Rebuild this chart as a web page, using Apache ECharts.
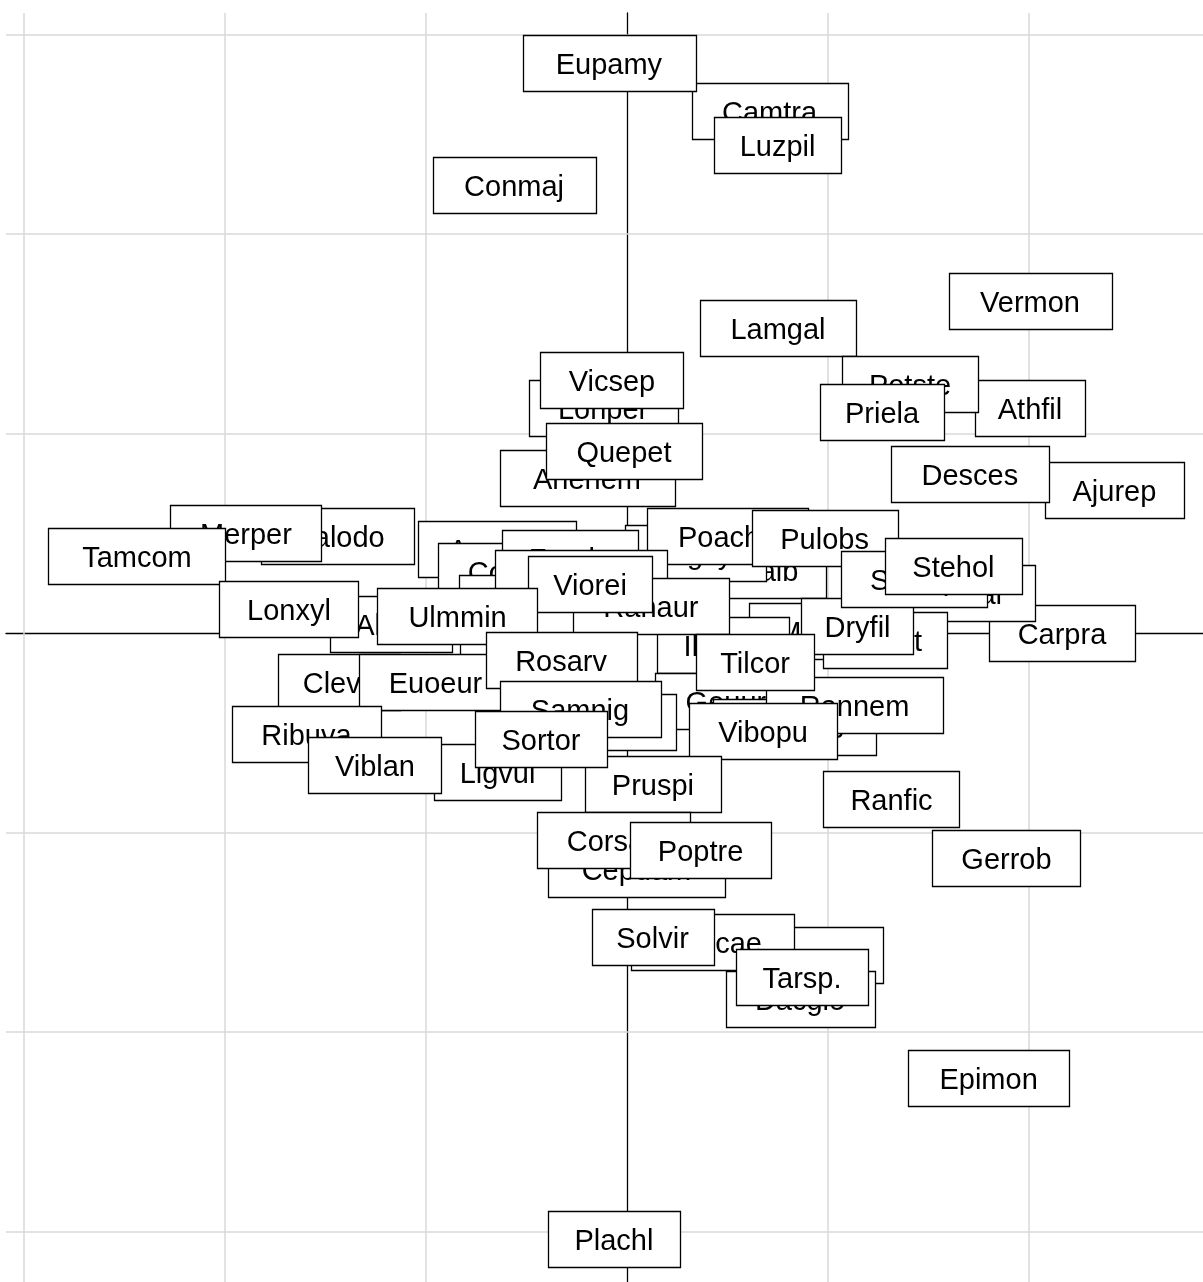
<!DOCTYPE html>
<html>
<head>
<meta charset="utf-8">
<script src="https://cdn.jsdelivr.net/npm/echarts@6/dist/echarts.min.js"></script>
<style>
html,body{margin:0;padding:0;background:#fff;}
#chart{width:1203px;height:1282px;}
</style>
</head>
<body>
<div id="chart"></div>
<script>
// Species labels (drawing order: first = bottom)
const labels = ["Camtra","Luzpil","Eupamy","Conmaj","Vermon","Lamgal","Athfil","Potste","Priela","Ajurep",
  "Desces","Lonper","Vicsep","Anenem","Quepet","Galodo","Merper","Tamcom","Galalb","Fagsyl",
  "Poacha","Pulobs","Acepse","Corave","Fraaln","Filulm","Brasyl","Hypmac","Epiang","Meluni",
  "Ileaqu","Ranaur","Viorei","Allurs","Lonxyl","Ulmmin","Carpra","Daucar","Ribalt","Dryfil",
  "Salcap","Stehol","Geuurb","Oxaace","Rannem","Tilcor","Vibopu","Clevit","Euoeur","Rosarv",
  "Hedhel","Samnig","Ribuva","Ligvul","Viblan","Pruspi","Sortor","Ranfic","Gerrob","Cepdam",
  "Corsan","Poptre","Fraexc","Rubcae","Solvir","Dacglo","Tarsp.","Epimon","Plachl"];
// Axis 1 scores
const xs = [0.709,0.749,-0.090,-0.562,2.005,0.751,2.005,1.408,1.269,2.425,
  1.706,-0.119,-0.075,-0.199,-0.015,-1.438,-1.896,-2.438,0.644,0.343,
  0.498,0.983,-0.647,-0.560,-0.284,-0.515,-0.299,-0.229,-0.463,0.960,
  0.478,0.119,-0.184,-1.172,-1.682,-0.843,2.164,1.649,1.284,1.147,
  1.430,1.624,0.532,0.833,1.132,0.637,0.677,-1.433,-0.953,-0.328,
  -0.134,-0.234,-1.595,-0.644,-1.254,0.129,-0.428,1.316,1.888,0.047,
  -0.067,0.366,0.910,0.423,0.127,0.861,0.871,1.799,-0.065];
// Axis 2 scores
const ys = [2.617,2.446,2.857,2.246,1.664,1.529,1.128,1.248,1.108,0.717,
  0.797,1.130,1.268,0.777,0.912,0.486,0.501,0.386,0.316,0.400,
  0.486,0.476,0.421,0.311,0.376,0.150,0.190,0.276,-0.020,0.010,
  -0.060,0.133,0.246,0.045,0.120,0.083,0.000,0.203,-0.035,0.033,
  0.271,0.338,-0.341,-0.471,-0.363,-0.143,-0.491,-0.246,-0.246,-0.135,
  -0.446,-0.381,-0.506,-0.697,-0.662,-0.757,-0.529,-0.832,-1.128,-1.183,
  -1.038,-1.088,-1.614,-1.551,-1.524,-1.835,-1.722,-2.233,-3.040];
// Grid line positions
const gridX = [-3,-2,-1,1,2];
const gridY = [-3,-2,-1,1,2,3];

const FONT = '29px "Liberation Sans", Arial, sans-serif';
const cv = document.createElement('canvas').getContext('2d');
cv.font = FONT;
function tw(s){ return cv.measureText(s).width; }

const data = labels.map((l,i)=>[xs[i], ys[i], l]);

const chart = echarts.init(document.getElementById('chart'), null, {renderer:'canvas'});
chart.setOption({
  animation:false,
  backgroundColor:'#fff',
  grid:{left:6, top:13, right:0, bottom:0, containLabel:false},
  xAxis:{type:'value', min:-3.0896, max:2.8657,
    axisLine:{show:true, onZero:true, lineStyle:{color:'#000', width:1.3}},
    axisTick:{show:false}, axisLabel:{show:false}, splitLine:{show:false}},
  yAxis:{type:'value', min:-3.2531, max:3.1078,
    axisLine:{show:true, onZero:true, lineStyle:{color:'#000', width:1.3}},
    axisTick:{show:false}, axisLabel:{show:false}, splitLine:{show:false}},
  series:[
    {type:'line', data:[], z:1, silent:true,
     markLine:{silent:true, symbol:['none','none'], label:{show:false}, animation:false,
       lineStyle:{color:'#d9d9d9', width:1.5, type:'solid'},
       emphasis:{disabled:true},
       data: gridX.map(v=>({xAxis:v})).concat(gridY.map(v=>({yAxis:v})))}},
    {type:'custom', z:5, clip:false, data:data,
     renderItem:function(params, api){
       const i = params.dataIndex;
       const p = api.coord([api.value(0), api.value(1)]);
       const name = labels[i];
       const w = 1.49*tw(name) + 14;
       const h = 56;
       return {type:'group', children:[
         {type:'rect', z2:i*2, shape:{x:Math.round(p[0]-w/2)+0.5, y:Math.round(p[1]-h/2)+0.5, width:Math.round(w), height:h},
          style:{fill:'#fff', stroke:'#000', lineWidth:1.3}},
         {type:'text', z2:i*2+1, x:p[0], y:p[1]+3,
          style:{text:name, fill:'#000', font:FONT, align:'center', verticalAlign:'middle'}}
       ]};
     }}
  ]
});
</script>
</body>
</html>
